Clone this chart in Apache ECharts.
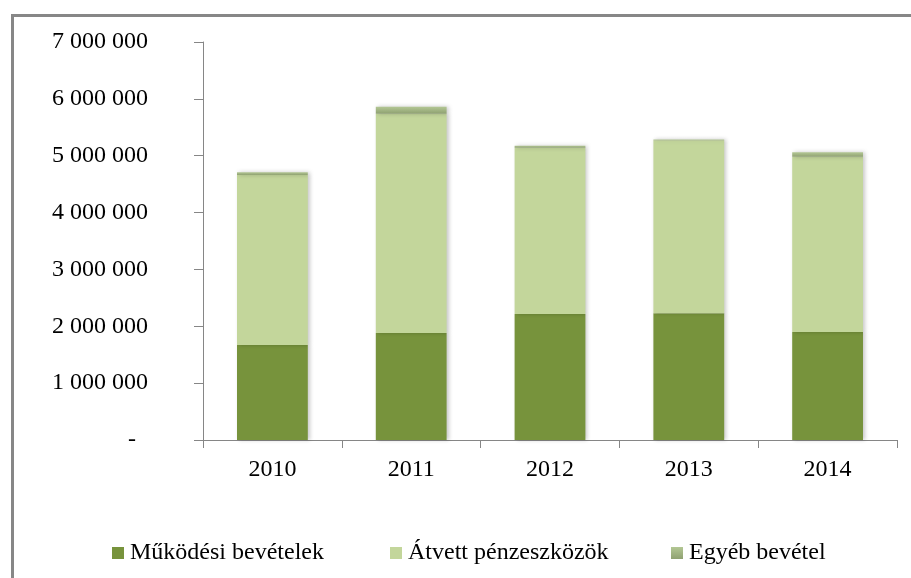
<!DOCTYPE html>
<html>
<head>
<meta charset="utf-8">
<script src="https://cdn.jsdelivr.net/npm/echarts@6/dist/echarts.min.js"></script>
<style>html,body{margin:0;padding:0;background:#fff}#c{width:911px;height:578px}</style>
</head>
<body>
<div id="c"></div>
<script>
var categories = ['2010', '2011', '2012', '2013', '2014'];
var mukodesi = [1670000, 1880000, 2215000, 2230000, 1900000];
var atvett = [2990000, 3860000, 2925000, 3040000, 3080000];
var egyeb = [50000, 120000, 35000, 15000, 80000];
var seriesNames = ['Működési bevételek', 'Átvett pénzeszközök', 'Egyéb bevétel'];
var yTicks = { min: 0, max: 7000000, interval: 1000000 };

var font = 'Liberation Serif';
var shadow = { shadowColor: 'rgba(0,0,0,0.22)', shadowBlur: 4, shadowOffsetX: 2, shadowOffsetY: 0 };
var egyebColor = new echarts.graphic.LinearGradient(0, 0, 0, 1, [
  { offset: 0, color: '#b3c794' },
  { offset: 1, color: '#8fa171' }
]);

function fmt(v) {
  if (v === 0) return '-  ';
  return String(v).replace(/\B(?=(\d{3})+(?!\d))/g, ' ');
}

var chart = echarts.init(document.getElementById('c'), null, { renderer: 'canvas' });
function legendAt(name, left) {
  return {
    data: [name], left: left, top: 536, itemWidth: 12, itemHeight: 12,
    icon: 'rect', itemGap: 0,
    textStyle: { fontFamily: font, fontSize: 24, color: '#000', padding: [0, 0, 0, 1] },
    selectedMode: false
  };
}
chart.setOption({
  animation: false,
  backgroundColor: '#fff',
  graphic: [{
    type: 'rect', left: 10, top: 13, silent: true,
    shape: { x: 0, y: 0, width: 930, height: 620 },
    style: { fill: 'none', stroke: '#878787', lineWidth: 3 }
  }],
  grid: { left: 203, right: 14, top: 42, bottom: 138 },
  legend: [
    legendAt(seriesNames[0], 107),
    legendAt(seriesNames[1], 385),
    legendAt(seriesNames[2], 666)
  ],
  xAxis: {
    type: 'category', data: categories,
    axisLine: { lineStyle: { color: '#868686', width: 1 } },
    axisTick: { show: true, length: 8, lineStyle: { color: '#868686' } },
    axisLabel: { fontFamily: font, fontSize: 24, color: '#000', margin: 18 }
  },
  yAxis: {
    type: 'value', min: yTicks.min, max: yTicks.max, interval: yTicks.interval,
    axisLine: { show: true, lineStyle: { color: '#868686', width: 1 } },
    axisTick: { show: true, length: 9, lineStyle: { color: '#868686' } },
    splitLine: { show: false },
    axisLabel: { fontFamily: font, fontSize: 24, color: '#000', margin: 55, formatter: fmt }
  },
  series: [
    { name: seriesNames[0], type: 'bar', stack: 'a', data: mukodesi, barWidth: '51%',
      itemStyle: Object.assign({ color: '#77933c' }, shadow) },
    { name: seriesNames[1], type: 'bar', stack: 'a', data: atvett, barWidth: '51%',
      itemStyle: Object.assign({ color: '#c3d69b' }, shadow) },
    { name: seriesNames[2], type: 'bar', stack: 'a', data: egyeb, barWidth: '51%',
      itemStyle: Object.assign({ color: egyebColor }, shadow) }
  ]
});
</script>
</body>
</html>
